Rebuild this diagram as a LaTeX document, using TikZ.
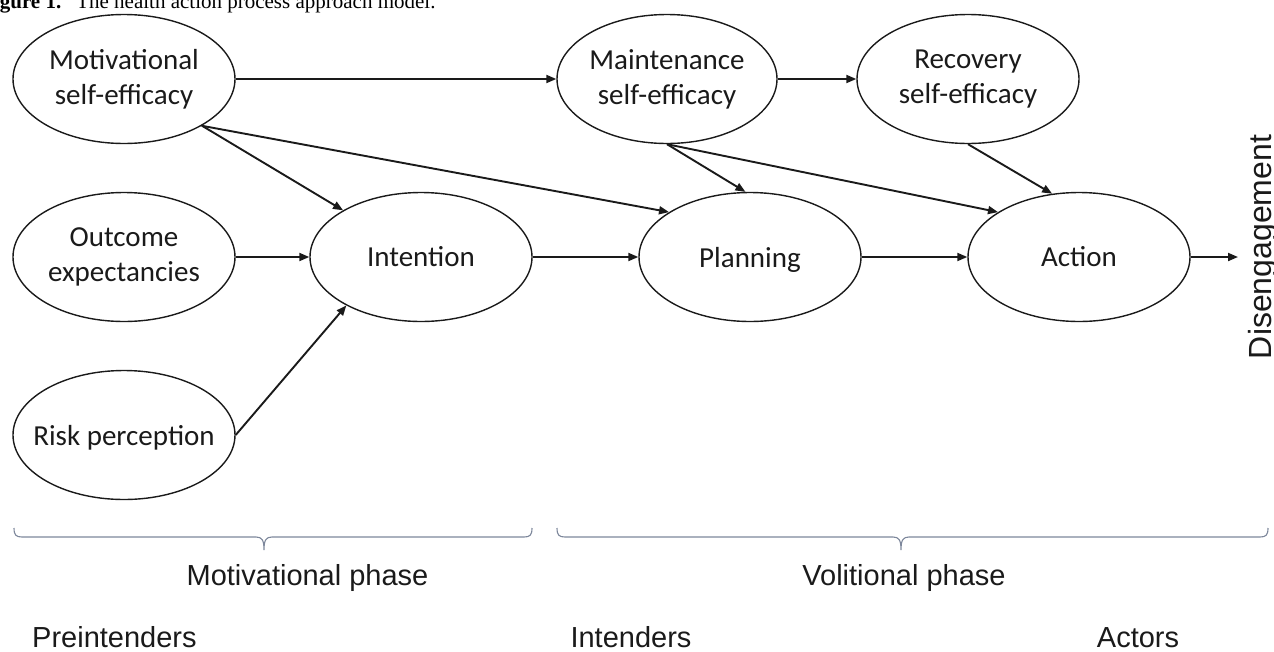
\documentclass[tikz,border=0pt]{standalone}
\usepackage{fontspec}
\usetikzlibrary{arrows.meta,shapes.geometric}
\newfontfamily\calfont{Carlito}
\newfontfamily\arialfont{Liberation Sans}
\newfontfamily\timesfont{Liberation Serif}
\definecolor{ink}{HTML}{1A1A1A}
\definecolor{bracecol}{RGB}{125,135,155}
\tikzset{
  ell/.style={ellipse, draw=ink, line width=1.4pt, minimum width=222pt, minimum height=129pt,
    inner sep=0pt, align=center, text=ink, font=\calfont\fontsize{29}{35}\selectfont},
  arr/.style={draw=ink, line width=1.9pt, -{Triangle[length=10pt,width=8pt]}},
  brace/.style={draw=bracecol, line width=1.1pt},
  lab/.style={inner sep=0pt, text=ink, font=\arialfont\fontsize{29}{35}\selectfont},
}
\begin{document}
\begin{tikzpicture}[x=1pt,y=-1pt]
\useasboundingbox (0,0) rectangle (1274,651);
% caption (clipped at top/left)
\node[anchor=base west, inner sep=0pt, font=\timesfont\fontsize{21}{25}\selectfont] (cap) at (-19,8)
  {\textbf{Figure 1.}\hspace{15pt}The health action process approach model.};
% nodes
\node[ell] (mse) at (124,79) {Motivational\\self-efficacy};
\node[ell] (oe) at (124,257) {Outcome\\expectancies};
\node[ell, text depth=0pt] (rp) at (124,435) {\makebox[0pt]{Risk perception}};
\node[ell] (int) at (421,257) {Intention};
\node[ell, minimum width=220pt] (mainse) at (667,79) {Maintenance\\self-efficacy};
\node[ell] (recse) at (968,79) {Recovery\\self-efficacy};
\node[ell, text depth=0pt] (plan) at (750,257) {Planning};
\node[ell] (act) at (1079,257) {Action};
\node[lab, rotate=90, anchor=base, font=\arialfont\fontsize{32}{38}\selectfont] (dis) at (1271,247) {Disengagement};
\coordinate (disend) at (1238,257);
% connectors
\draw[arr] (mse) -- (mainse);
\draw[arr] (mainse) -- (recse);
\draw[arr] (mse) -- (int);
\draw[arr] (mse.-31) -- (plan.151);
\draw[arr] (oe) -- (int);
\draw[arr] (rp.east) -- (int.213);
\draw[arr] (int) -- (plan);
\draw[arr] (plan) -- (act);
\draw[arr] (mainse.south) -- (plan.94);
\draw[arr] (mainse.south) -- (act.151);
\draw[arr] (recse.south) -- (act.113);
\draw[arr] (act.east) -- (disend);
% braces
\draw[brace] (14,528) .. controls (14,535) and (16,537) .. (22,537) -- (256,537)
  .. controls (262,537) and (264,540) .. (264,550)
  .. controls (264,540) and (266,537) .. (272,537) -- (524,537)
  .. controls (530,537) and (532,535) .. (532,528);
\draw[brace] (557,528) .. controls (557,535) and (559,537) .. (565,537) -- (893,537)
  .. controls (899,537) and (901,540) .. (901,550)
  .. controls (901,540) and (903,537) .. (909,537) -- (1260,537)
  .. controls (1266,537) and (1268,535) .. (1268,528);
% labels
\node[lab, anchor=base] (mph) at (307.5,585) {Motivational phase};
\node[lab, anchor=base] (vph) at (904,585) {Volitional phase};
\node[lab, anchor=base west] (pre) at (32,647) {Preintenders};
\node[lab, anchor=base] (inte) at (631,647) {Intenders};
\node[lab, anchor=base] (actr) at (1138,647) {Actors};
\end{tikzpicture}
\end{document}
